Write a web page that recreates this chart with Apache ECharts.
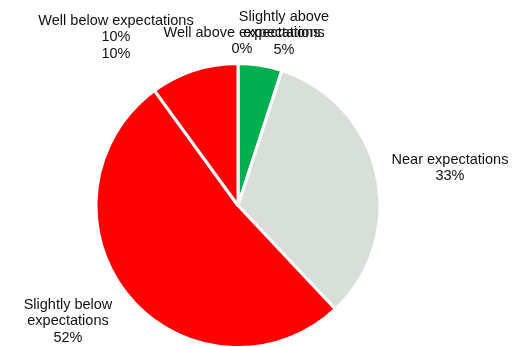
<!DOCTYPE html>
<html>
<head>
<meta charset="utf-8">
<script src="https://cdn.jsdelivr.net/npm/echarts@6/dist/echarts.min.js"></script>
<style>
  html, body { margin: 0; padding: 0; background: #fff; }
  #chart { width: 525px; height: 347px; }
</style>
</head>
<body>
<div id="chart"></div>
<script>
// slices, clockwise from 12 o'clock
const categories = [
  'Well above expectations',
  'Slightly above\nexpectations',
  'Near expectations',
  'Slightly below\nexpectations',
  'Well below expectations'
]
const values = [0, 5, 33, 52, 10]
const colors = ['#00B050', '#00B050', '#D8DFD8', '#FF0000', '#FF0000']

// where each label block sits (centre, px)
const labelAnchors = [[242, 41], [284, 33], [450, 168], [68, 321], [116, 37]]

const chart = echarts.init(document.getElementById('chart'), null, { renderer: 'canvas' })

const data = categories.map((name, i) => ({
  name: name,
  value: values[i],
  itemStyle: { color: colors[i] }
}))

chart.setOption({
  backgroundColor: '#fff',
  animation: false,
  series: [{
    type: 'pie',
    center: [238, 205.5],
    radius: 142,
    startAngle: 90,
    clockwise: true,
    avoidLabelOverlap: false,
    itemStyle: {
      borderColor: '#fff',
      borderWidth: 3
    },
    label: {
      show: true,
      position: 'outside',
      formatter: function(p) {
        const pct = Math.round(p.percent) + '%'
        // the original chart repeats the percentage on the last label
        return p.dataIndex === 4 ? p.name + '\n' + pct + '\n' + pct : p.name + '\n' + pct
      },
      fontFamily: 'Liberation Sans, Arial, sans-serif',
      fontSize: 14.5,
      lineHeight: 16.5,
      color: '#111'
    },
    labelLine: { show: false },
    labelLayout: function(params) {
      const p = labelAnchors[params.dataIndex]
      return { x: p[0], y: p[1], align: 'center', verticalAlign: 'middle' }
    },
    emphasis: { disabled: true },
    data: data
  }]
})
</script>
</body>
</html>
